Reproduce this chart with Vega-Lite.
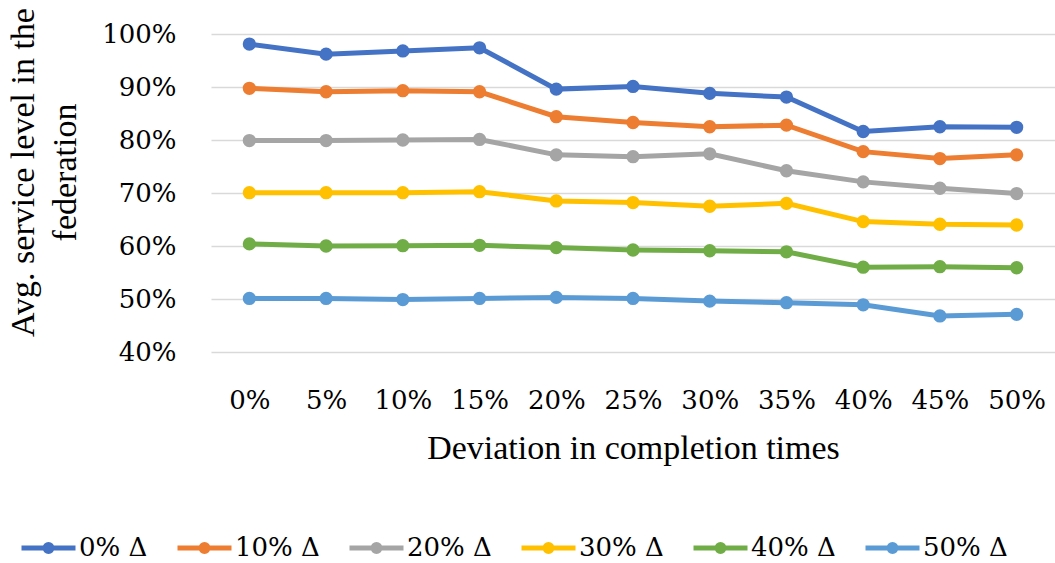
{
  "$schema": "https://vega.github.io/schema/vega-lite/v6.json",
  "width": 844,
  "height": 318,
  "autosize": {"type": "none"},
  "padding": {"left": 211, "top": 34, "right": 0, "bottom": 211},
  "background": "white",
  "config": {
    "font": "Liberation Serif",
    "view": {"stroke": null},
    "axis": {"labelColor": "#000000", "titleColor": "#000000"},
    "legend": {"labelColor": "#000000"}
  },
  "data": {
    "values": [
      {"dev": "0%", "series": "0% Δ", "value": 0.981},
      {"dev": "5%", "series": "0% Δ", "value": 0.962},
      {"dev": "10%", "series": "0% Δ", "value": 0.968},
      {"dev": "15%", "series": "0% Δ", "value": 0.974},
      {"dev": "20%", "series": "0% Δ", "value": 0.896},
      {"dev": "25%", "series": "0% Δ", "value": 0.901},
      {"dev": "30%", "series": "0% Δ", "value": 0.888},
      {"dev": "35%", "series": "0% Δ", "value": 0.881},
      {"dev": "40%", "series": "0% Δ", "value": 0.816},
      {"dev": "45%", "series": "0% Δ", "value": 0.825},
      {"dev": "50%", "series": "0% Δ", "value": 0.824},
      {"dev": "0%", "series": "10% Δ", "value": 0.8975},
      {"dev": "5%", "series": "10% Δ", "value": 0.891},
      {"dev": "10%", "series": "10% Δ", "value": 0.893},
      {"dev": "15%", "series": "10% Δ", "value": 0.891},
      {"dev": "20%", "series": "10% Δ", "value": 0.844},
      {"dev": "25%", "series": "10% Δ", "value": 0.833},
      {"dev": "30%", "series": "10% Δ", "value": 0.825},
      {"dev": "35%", "series": "10% Δ", "value": 0.828},
      {"dev": "40%", "series": "10% Δ", "value": 0.778},
      {"dev": "45%", "series": "10% Δ", "value": 0.765},
      {"dev": "50%", "series": "10% Δ", "value": 0.772},
      {"dev": "0%", "series": "20% Δ", "value": 0.799},
      {"dev": "5%", "series": "20% Δ", "value": 0.799},
      {"dev": "10%", "series": "20% Δ", "value": 0.800},
      {"dev": "15%", "series": "20% Δ", "value": 0.801},
      {"dev": "20%", "series": "20% Δ", "value": 0.772},
      {"dev": "25%", "series": "20% Δ", "value": 0.7685},
      {"dev": "30%", "series": "20% Δ", "value": 0.774},
      {"dev": "35%", "series": "20% Δ", "value": 0.742},
      {"dev": "40%", "series": "20% Δ", "value": 0.721},
      {"dev": "45%", "series": "20% Δ", "value": 0.709},
      {"dev": "50%", "series": "20% Δ", "value": 0.699},
      {"dev": "0%", "series": "30% Δ", "value": 0.7006},
      {"dev": "5%", "series": "30% Δ", "value": 0.7006},
      {"dev": "10%", "series": "30% Δ", "value": 0.7006},
      {"dev": "15%", "series": "30% Δ", "value": 0.7025},
      {"dev": "20%", "series": "30% Δ", "value": 0.685},
      {"dev": "25%", "series": "30% Δ", "value": 0.682},
      {"dev": "30%", "series": "30% Δ", "value": 0.675},
      {"dev": "35%", "series": "30% Δ", "value": 0.6805},
      {"dev": "40%", "series": "30% Δ", "value": 0.646},
      {"dev": "45%", "series": "30% Δ", "value": 0.641},
      {"dev": "50%", "series": "30% Δ", "value": 0.6396},
      {"dev": "0%", "series": "40% Δ", "value": 0.604},
      {"dev": "5%", "series": "40% Δ", "value": 0.600},
      {"dev": "10%", "series": "40% Δ", "value": 0.6006},
      {"dev": "15%", "series": "40% Δ", "value": 0.6013},
      {"dev": "20%", "series": "40% Δ", "value": 0.597},
      {"dev": "25%", "series": "40% Δ", "value": 0.5925},
      {"dev": "30%", "series": "40% Δ", "value": 0.591},
      {"dev": "35%", "series": "40% Δ", "value": 0.589},
      {"dev": "40%", "series": "40% Δ", "value": 0.560},
      {"dev": "45%", "series": "40% Δ", "value": 0.561},
      {"dev": "50%", "series": "40% Δ", "value": 0.559},
      {"dev": "0%", "series": "50% Δ", "value": 0.501},
      {"dev": "5%", "series": "50% Δ", "value": 0.501},
      {"dev": "10%", "series": "50% Δ", "value": 0.499},
      {"dev": "15%", "series": "50% Δ", "value": 0.501},
      {"dev": "20%", "series": "50% Δ", "value": 0.503},
      {"dev": "25%", "series": "50% Δ", "value": 0.501},
      {"dev": "30%", "series": "50% Δ", "value": 0.496},
      {"dev": "35%", "series": "50% Δ", "value": 0.493},
      {"dev": "40%", "series": "50% Δ", "value": 0.489},
      {"dev": "45%", "series": "50% Δ", "value": 0.468},
      {"dev": "50%", "series": "50% Δ", "value": 0.471}
    ]
  },
  "mark": {
    "type": "line",
    "strokeWidth": 5,
    "point": {"filled": true, "size": 177}
  },
  "encoding": {
    "x": {
      "field": "dev",
      "type": "nominal",
      "sort": null,
      "scale": {"type": "point", "padding": 0.5},
      "axis": {
        "labelAngle": 0,
        "ticks": false,
        "domain": false,
        "grid": false,
        "labelPadding": 35,
        "labelFont": "DejaVu Serif",
        "labelFontSize": 26,
        "title": "Deviation in completion times",
        "titleFont": "Liberation Serif",
        "titleFontSize": 34,
        "titleFontWeight": "normal",
        "titleY": 106,
        "titleBaseline": "alphabetic"
      }
    },
    "y": {
      "field": "value",
      "type": "quantitative",
      "scale": {"domain": [0.4, 1.0], "nice": false, "zero": false},
      "axis": {
        "values": [0.4, 0.5, 0.6, 0.7, 0.8, 0.9, 1.0],
        "format": ".0%",
        "grid": true,
        "gridColor": "#D9D9D9",
        "gridWidth": 1.5,
        "domain": false,
        "ticks": false,
        "labelPadding": 35,
        "labelFont": "DejaVu Serif",
        "labelFontSize": 26,
        "title": ["Avg. service level in the", "federation"],
        "titleFont": "Liberation Serif",
        "titleFontSize": 34,
        "titleFontWeight": "normal",
        "titleAngle": -90,
        "titleX": -188,
        "titleY": 138,
        "titleBaseline": "middle",
        "titleAlign": "center",
        "titleLineHeight": 42
      }
    },
    "color": {
      "field": "series",
      "type": "nominal",
      "sort": null,
      "scale": {
        "domain": ["0% Δ", "10% Δ", "20% Δ", "30% Δ", "40% Δ", "50% Δ"],
        "range": ["#4472C4", "#ED7D31", "#A5A5A5", "#FFC000", "#70AD47", "#5B9BD5"]
      },
      "legend": {
        "orient": "none",
        "legendX": -192,
        "legendY": 484,
        "direction": "horizontal",
        "title": null,
        "symbolType": "M-1,0L1,0M-0.13,0A0.13,0.13,0,1,1,0.13,0A0.13,0.13,0,1,1,-0.13,0Z",
        "symbolSize": 2916,
        "symbolStrokeWidth": 5,
        "labelFont": "DejaVu Serif",
        "labelFontSize": 26,
        "labelOffset": 1,
        "columnPadding": 19,
        "labelBaseline": "middle"
      }
    }
  }
}
